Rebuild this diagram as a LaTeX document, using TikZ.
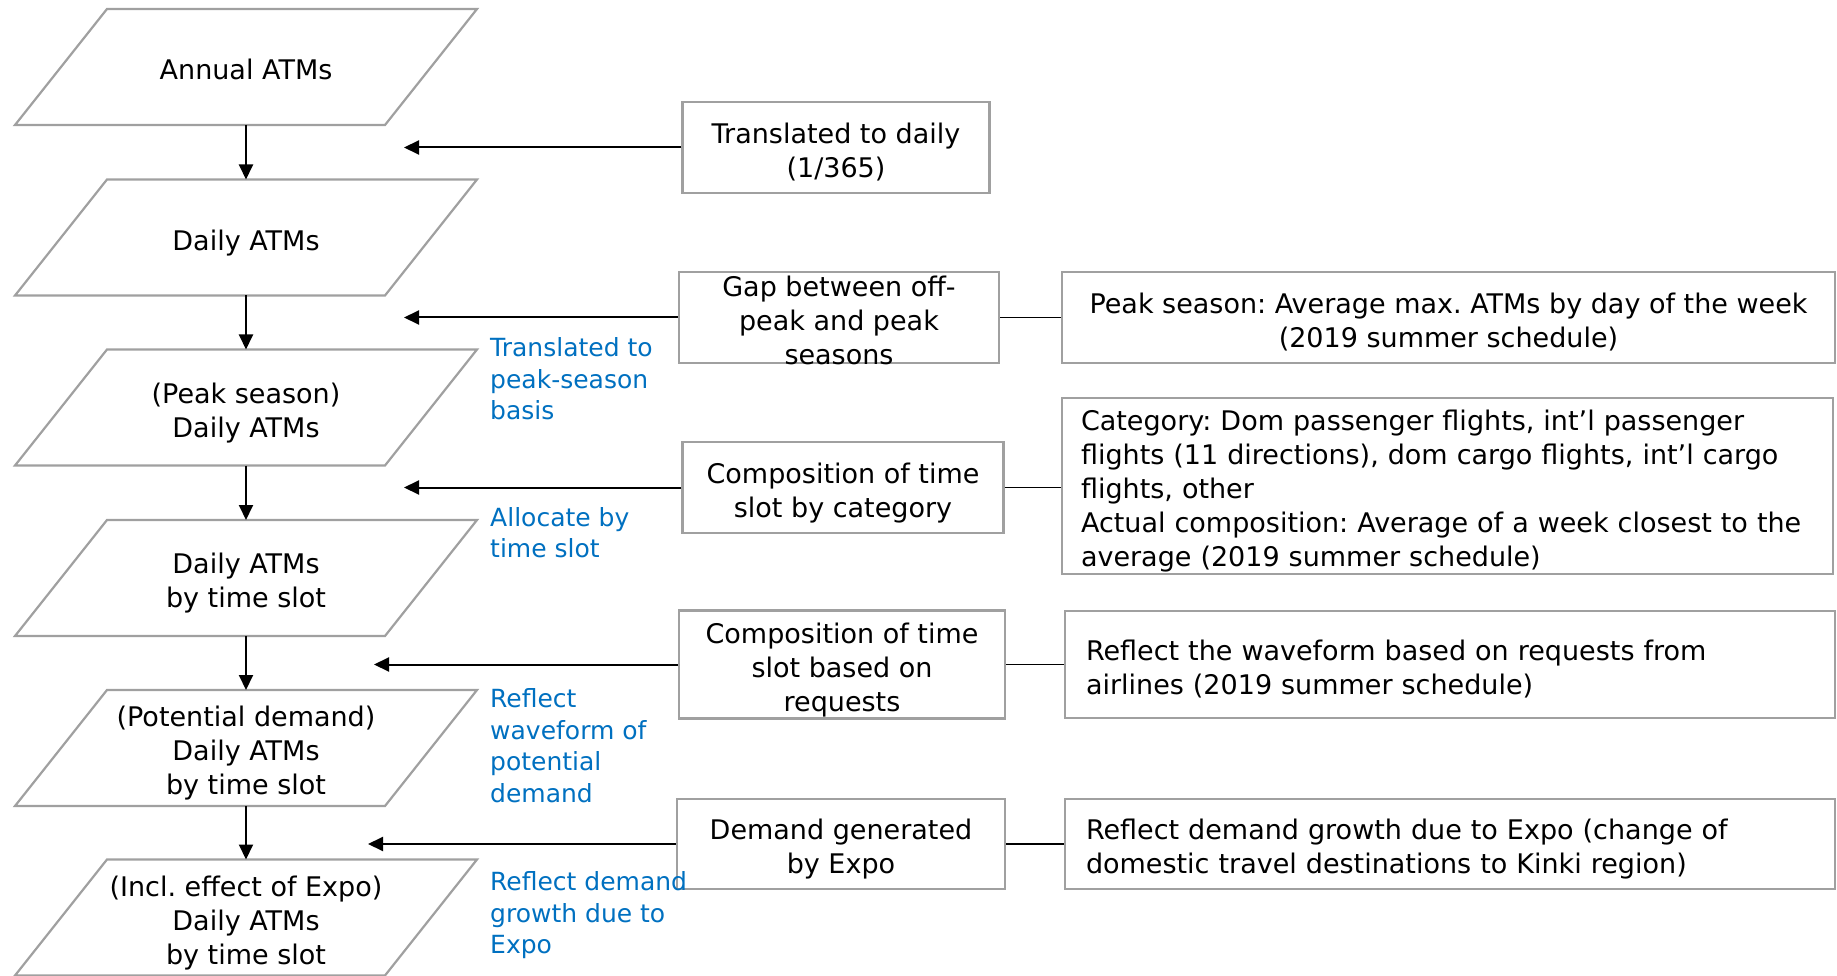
\documentclass[tikz,border=0pt]{standalone}
\usepackage{fontspec}
\setmainfont{DejaVu Sans}
\usetikzlibrary{arrows.meta}
\frenchspacing
\definecolor{boxgray}{HTML}{A0A0A0}
\definecolor{noteblue}{HTML}{0070C0}
\newcommand\blktop{\rule{0pt}{32.6pt}}
\newcommand\blkbot{\rule[-7pt]{0pt}{7pt}}
\newcommand\rtop{\rule{0pt}{26pt}}
\newcommand\notetop{\rule{0pt}{30.5pt}}
\newcommand\notebot{\rule[-6.5pt]{0pt}{6.5pt}}
\newcommand\paraoutline[1]{\draw[paraline] (#1.north west) -- ([xshift=92pt]#1.north east) -- (#1.south east) -- ([xshift=-92pt]#1.south west) -- cycle;}
\begin{document}
\begin{tikzpicture}[x=1pt,y=-1pt,
  blk/.style={font=\fontsize{27}{34}\selectfont, align=center, inner sep=0pt, outer sep=0pt,
    execute at begin node=\blktop, execute at end node=\blkbot},
  para/.style={blk, minimum width=278pt, minimum height=116pt},
  paraline/.style={draw=boxgray, line width=2.2pt, line join=miter},
  lbox/.style={blk, draw=boxgray, line width=2.2pt, outer sep=1.1pt},
  rbox/.style={lbox, align=left, execute at begin node=\rtop},
  note/.style={font=\fontsize{25}{31.5}\selectfont, text=noteblue, align=left, anchor=west,
    inner sep=0pt, execute at begin node=\notetop, execute at end node=\notebot},
  flow/.style={draw=black, line width=2pt, -{Triangle[length=15pt,width=14pt]}},
  link/.style={draw=black, line width=1.5pt},
]
\useasboundingbox (0,0) rectangle (1837,976);

% flow column
\node[para] (p1) at (246,67) {Annual ATMs};
\node[para] (p2) at (246,237.5) {Daily ATMs};
\node[para] (p3) at (246,407.5) {\blktop(Peak season)\\Daily ATMs};
\node[para] (p4) at (246,578) {\blktop Daily ATMs\\by time slot};
\node[para] (p5) at (246,748) {\blktop(Potential demand)\\Daily ATMs\\by time slot};
\node[para] (p6) at (246,917.5) {\blktop(Incl. effect of Expo)\\Daily ATMs\\by time slot};
\foreach \n in {p1,p2,p3,p4,p5,p6}{\paraoutline{\n}}

\draw[flow] (p1.south) -- (p2.north);
\draw[flow] (p2.south) -- (p3.north);
\draw[flow] (p3.south) -- (p4.north);
\draw[flow] (p4.south) -- (p5.north);
\draw[flow] (p5.south) -- (p6.north);

% middle boxes
\node[lbox, minimum width=307pt, minimum height=91pt] (t1) at (836,147.5) {\blktop Translated to daily\\(1/365)};
\node[lbox, minimum width=320pt, minimum height=91pt] (t2) at (839,317.5) {};
\node[blk] (t2txt) at (839,318) {\blktop Gap between off-\\peak and peak\\seasons};
\node[lbox, minimum width=321pt, minimum height=91pt] (t3) at (843,487.5) {\blktop Composition of time\\slot by category};
\node[lbox, minimum width=326pt, minimum height=108pt] (t4) at (842,664.5) {\blktop Composition of time\\slot based on\\requests};
\node[lbox, minimum width=328pt, minimum height=90pt] (t5) at (841,844) {\blktop Demand generated\\by Expo};

% arrow tips
\coordinate (a1) at (404,147.5);
\coordinate (a2) at (404,317.5);
\coordinate (a3) at (404,487.5);
\coordinate (a4) at (374,664.5);
\coordinate (a5) at (368,844);
\draw[flow] (t1.west) -- (a1);
\draw[flow] (t2.west) -- (a2);
\draw[flow] (t3.west) -- (a3);
\draw[flow] (t4.west) -- (a4);
\draw[flow] (t5.west) -- (a5);

% right boxes
\node[lbox, minimum width=773pt, minimum height=91pt] (rA) at (1448.5,317.5) {\blktop Peak season: Average max. ATMs by day of the week\\(2019 summer schedule)};
\node[rbox, text width=733pt, inner xsep=19pt, minimum height=174pt] (rB) at (1447.5,486)
  {Category: Dom passenger flights, int’l passenger\\flights (11 directions), dom cargo flights, int’l cargo\\flights, other\\Actual composition: Average of a week closest to the\\average (2019 summer schedule)};
\node[rbox, text width=728pt, inner xsep=21pt, minimum height=107pt] (rC) at (1450,664.5)
  {Reflect the waveform based on requests from\\airlines (2019 summer schedule)};
\node[rbox, text width=728pt, inner xsep=21pt, minimum height=90pt] (rD) at (1450,844)
  {Reflect demand growth due to Expo (change of\\domestic travel destinations to Kinki region)};

\draw[link] (t2.east) -- (rA.west);
\draw[link] (t3.east) -- (t3.east -| rB.west);
\draw[link] (t4.east) -- (rC.west);
\draw[link] (t5.east) -- (rD.west);

% blue notes
\node[note] (b1) at (490,376) {\notetop Translated to\\peak-season\\basis};
\node[note] (b2) at (490,530) {\notetop Allocate by\\time slot};
\node[note] (b3) at (490,743) {\notetop Reflect\\waveform of\\potential\\demand};
\node[note] (b4) at (490,910) {\notetop Reflect demand\\growth due to\\Expo};
\end{tikzpicture}
\end{document}
